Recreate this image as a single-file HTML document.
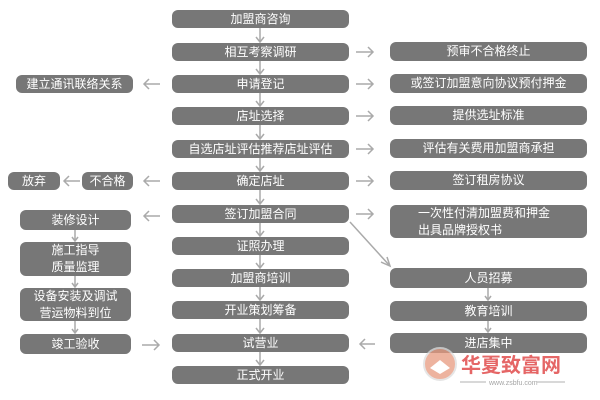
<!DOCTYPE html>
<html><head><meta charset="utf-8"><style>
body{margin:0;width:600px;height:400px;background:#fff;position:relative;overflow:hidden;font-family:"Liberation Sans","Noto Sans CJK SC",sans-serif}
.b{position:absolute;background:#777;color:#fff;font-size:12px;border-radius:6px;display:flex;align-items:center;justify-content:center;text-align:center;line-height:17px}
svg{position:absolute;left:0;top:0}
</style></head><body>
<div class="b" style="left:172px;top:10px;width:177px;height:18px">加盟商咨询</div>
<div class="b" style="left:172px;top:43px;width:177px;height:18px">相互考察调研</div>
<div class="b" style="left:172px;top:75px;width:177px;height:18px">申请登记</div>
<div class="b" style="left:172px;top:107px;width:177px;height:18px">店址选择</div>
<div class="b" style="left:172px;top:140px;width:177px;height:18px">自选店址评估推荐店址评估</div>
<div class="b" style="left:172px;top:172px;width:177px;height:18px">确定店址</div>
<div class="b" style="left:172px;top:205px;width:177px;height:18px">签订加盟合同</div>
<div class="b" style="left:172px;top:237px;width:177px;height:18px">证照办理</div>
<div class="b" style="left:172px;top:269px;width:177px;height:18px">加盟商培训</div>
<div class="b" style="left:172px;top:301px;width:177px;height:18px">开业策划筹备</div>
<div class="b" style="left:172px;top:334px;width:177px;height:18px">试营业</div>
<div class="b" style="left:172px;top:366px;width:177px;height:18px">正式开业</div>

<div class="b" style="left:16px;top:75px;width:117px;height:18px">建立通讯联络关系</div>
<div class="b" style="left:8px;top:172px;width:52px;height:18px">放弃</div>
<div class="b" style="left:82px;top:172px;width:51px;height:18px">不合格</div>
<div class="b" style="left:20px;top:210px;width:111px;height:20px">装修设计</div>
<div class="b" style="left:20px;top:242px;width:111px;height:34px">施工指导<br>质量监理</div>
<div class="b" style="left:20px;top:288px;width:111px;height:33px">设备安装及调试<br>营运物料到位</div>
<div class="b" style="left:20px;top:334px;width:111px;height:20px">竣工验收</div>

<div class="b" style="left:390px;top:42px;width:197px;height:19px">预审不合格终止</div>
<div class="b" style="left:390px;top:74px;width:197px;height:19px">或签订加盟意向协议预付押金</div>
<div class="b" style="left:390px;top:106px;width:197px;height:19px">提供选址标准</div>
<div class="b" style="left:390px;top:139px;width:197px;height:19px">评估有关费用加盟商承担</div>
<div class="b" style="left:390px;top:171px;width:197px;height:19px">签订租房协议</div>
<div class="b" style="left:390px;top:205px;width:197px;height:33px;justify-content:flex-start;text-align:left;padding-left:28px;box-sizing:border-box">一次性付清加盟费和押金<br>出具品牌授权书</div>
<div class="b" style="left:390px;top:268px;width:197px;height:20px">人员招募</div>
<div class="b" style="left:390px;top:301px;width:197px;height:20px">教育培训</div>
<div class="b" style="left:390px;top:333px;width:197px;height:20px">进店集中</div>

<svg width="600" height="400" fill="none" stroke="#aaa" stroke-width="1.5">
<g id="d">
<path d="M260 28v14M256 37l4 5 4-5"/>
<path d="M260 61v13M256 69l4 5 4-5"/>
<path d="M260 93v13M256 101l4 5 4-5"/>
<path d="M260 125v14M256 134l4 5 4-5"/>
<path d="M260 158v13M256 166l4 5 4-5"/>
<path d="M260 190v14M256 199l4 5 4-5"/>
<path d="M260 223v13M256 231l4 5 4-5"/>
<path d="M260 255v13M256 263l4 5 4-5"/>
<path d="M260 287v13M256 295l4 5 4-5"/>
<path d="M260 319v14M256 328l4 5 4-5"/>
<path d="M260 352v13M256 360l4 5 4-5"/>
<path d="M75 230v11M72 237l3 4 3-4"/>
<path d="M75 276v11M72 283l3 4 3-4"/>
<path d="M75 321v12M72 329l3 4 3-4"/>
<path d="M488 288v12M485 296l3 4 3-4"/>
<path d="M488 321v11M485 328l3 4 3-4"/>
</g>
<path d="M356 52h17M368 47l5 5-5 5"/>
<path d="M356 84h17M368 79l5 5-5 5"/>
<path d="M356 116h17M368 111l5 5-5 5"/>
<path d="M356 149h17M368 144l5 5-5 5"/>
<path d="M356 181h17M368 176l5 5-5 5"/>
<path d="M356 214h17M368 209l5 5-5 5"/>
<path d="M142 345h17M154 340l5 5-5 5"/>
<path d="M160 84h-16M149 79l-5 5 5 5"/>
<path d="M160 181h-16M149 176l-5 5 5 5"/>
<path d="M80 181h-16M69 176l-5 5 5 5"/>
<path d="M160 216h-16M149 211l-5 5 5 5"/>
<path d="M375 344h-15M365 339l-5 5 5 5"/>
<path d="M350 222l40 44M381 262l9 4-3-9"/>
</svg>
<svg width="600" height="400" style="opacity:.75">
<circle cx="440" cy="364" r="16" fill="#e89a80" stroke="#ddd" stroke-width="2"/>
<path d="M430 368l10-8 10 8-10 6z" fill="#fff"/>
<text x="461" y="372" font-size="20" font-weight="bold" fill="#d33" font-family="Noto Sans CJK SC, sans-serif">华夏致富网</text>
<line x1="460" y1="382" x2="486" y2="382" stroke="#999"/><line x1="537" y1="382" x2="565" y2="382" stroke="#999"/>
<text x="489" y="385" font-size="7" fill="#888">www.zsbfu.com</text>
</svg>
</body></html>
